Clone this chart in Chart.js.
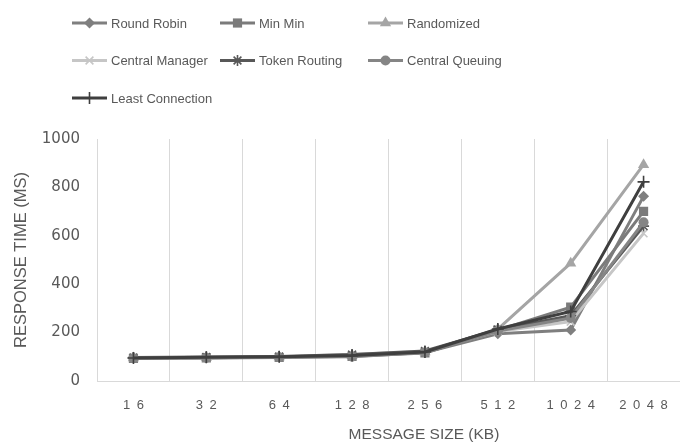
<!DOCTYPE html>
<html>
<head>
<meta charset="utf-8">
<script src="https://cdn.jsdelivr.net/npm/chart.js@4/dist/chart.umd.min.js"></script>
<style>
  html, body { margin: 0; padding: 0; background: #ffffff; }
  canvas { display: block; }
</style>
</head>
<body>
<canvas id="chart" width="680" height="444"></canvas>
<script>
// Message sizes (KB) along the x axis
const messageSizes = ['16', '32', '64', '128', '256', '512', '1024', '2048'];

// Response time (ms) per load-balancing strategy
const roundRobin      = [95, 96, 99, 104, 118, 195, 211, 763];
const minMin          = [93, 95, 97, 102, 116, 210, 305, 701];
const randomized      = [95, 97, 99, 106, 120, 214, 487, 894];
const centralManager  = [96, 98, 100, 110, 122, 205, 245, 610];
const tokenRouting    = [97, 99, 101, 109, 124, 212, 270, 640];
const centralQueuing  = [94, 96, 98, 100, 118, 206, 260, 656];
const leastConnection = [95, 98, 100, 105, 120, 215, 287, 823];

const seriesNames = ['Round Robin', 'Min Min', 'Randomized', 'Central Manager',
                     'Token Routing', 'Central Queuing', 'Least Connection'];
const seriesValues = [roundRobin, minMin, randomized, centralManager,
                      tokenRouting, centralQueuing, leastConnection];

const xAxisTitle = 'MESSAGE SIZE (KB)';
const yAxisTitle = 'RESPONSE TIME (MS)';

// Per-series look: line grey, marker shape and marker radius
const seriesStyles = [
  { color: '#7f7f7f', point: 'rectRot',  radius: 5.5 },
  { color: '#7b7b7b', point: 'rect',     radius: 6.5 },
  { color: '#a5a5a5', point: 'triangle', radius: 6.5 },
  { color: '#c6c6c6', point: 'crossRot', radius: 5.5 },
  { color: '#585858', point: 'star',     radius: 5.5 },
  { color: '#858585', point: 'circle',   radius: 5 },
  { color: '#3f3f3f', point: 'cross',    radius: 6 }
];

const datasets = seriesNames.map((name, i) => {
  const st = seriesStyles[i];
  const strokeOnly = ['crossRot', 'star', 'cross'].includes(st.point);
  return {
    label: name,
    data: seriesValues[i],
    borderColor: st.color,
    backgroundColor: st.color,
    borderWidth: 3,
    tension: 0,
    pointStyle: st.point,
    pointRadius: st.radius,
    pointHoverRadius: st.radius,
    pointBackgroundColor: st.color,
    pointBorderColor: st.color,
    pointBorderWidth: strokeOnly ? 1.6 : 0,
    order: -i
  };
});

// Legend laid out as a three-column grid above the plot,
// plus the x-axis title set under the 256 KB column
const gridLegend = {
  id: 'gridLegend',
  afterDraw(chart) {
    const ctx = chart.ctx;
    chart.data.datasets.forEach((ds, i) => {
      const x0 = 72 + (i % 3) * 148;
      const y = 23 + Math.floor(i / 3) * 37.5;
      ctx.save();
      ctx.strokeStyle = ds.borderColor;
      ctx.lineWidth = 3;
      ctx.beginPath();
      ctx.moveTo(x0, y);
      ctx.lineTo(x0 + 35, y);
      ctx.stroke();
      ctx.fillStyle = ds.pointBackgroundColor;
      ctx.strokeStyle = ds.pointBorderColor;
      ctx.lineWidth = ds.pointBorderWidth;
      Chart.helpers.drawPoint(ctx, {
        pointStyle: ds.pointStyle,
        radius: ds.pointRadius,
        rotation: 0,
        borderWidth: ds.pointBorderWidth
      }, x0 + 17.5, y);
      ctx.fillStyle = '#595959';
      ctx.font = '13px "Liberation Sans"';
      ctx.textBaseline = 'middle';
      ctx.textAlign = 'left';
      ctx.fillText(ds.label, x0 + 39, y + 1);
      ctx.restore();
    });

    const xs = chart.scales.x;
    ctx.save();
    ctx.fillStyle = '#595959';
    ctx.font = '15.5px "Liberation Sans"';
    ctx.textAlign = 'center';
    ctx.textBaseline = 'middle';
    ctx.fillText(xAxisTitle, xs.getPixelForValue(4) - 1, 435);
    ctx.restore();
  }
};

new Chart(document.getElementById('chart'), {
  type: 'line',
  data: { labels: messageSizes, datasets },
  plugins: [gridLegend],
  options: {
    responsive: false,
    animation: false,
    layout: { autoPadding: false, padding: { top: 139, left: 0, right: 0, bottom: 0 } },
    plugins: {
      legend: { display: false },
      tooltip: { enabled: false }
    },
    scales: {
      x: {
        offset: true,
        grid: { color: '#d9d9d9', lineWidth: 1, drawTicks: false, offset: true },
        border: { color: '#d9d9d9', width: 1 },
        ticks: {
          color: '#595959',
          font: { family: 'Liberation Sans', size: 13 },
          padding: 17,
          maxRotation: 0,
          autoSkip: false,
          callback(value) {
            return this.getLabelForValue(value).split('').join('\u2002');
          }
        },
        title: { display: false },
        afterFit(scale) {
          scale.height = 63;
          scale.paddingLeft = 0;
          scale.paddingRight = 0;
        }
      },
      y: {
        min: 0,
        max: 1000,
        grid: { display: false, drawTicks: false },
        border: { display: true, color: '#d9d9d9', width: 1 },
        ticks: {
          stepSize: 200,
          color: '#595959',
          font: { family: 'DejaVu Sans', size: 15 },
          padding: 17,
          callback(value) { return String(value); }
        },
        title: {
          display: true,
          text: yAxisTitle,
          color: '#595959',
          font: { family: 'Liberation Sans', size: 16.5 },
          padding: { top: 12, bottom: 0 }
        },
        afterFit(scale) { scale.width = 97; }
      }
    }
  }
});
</script>
</body>
</html>
